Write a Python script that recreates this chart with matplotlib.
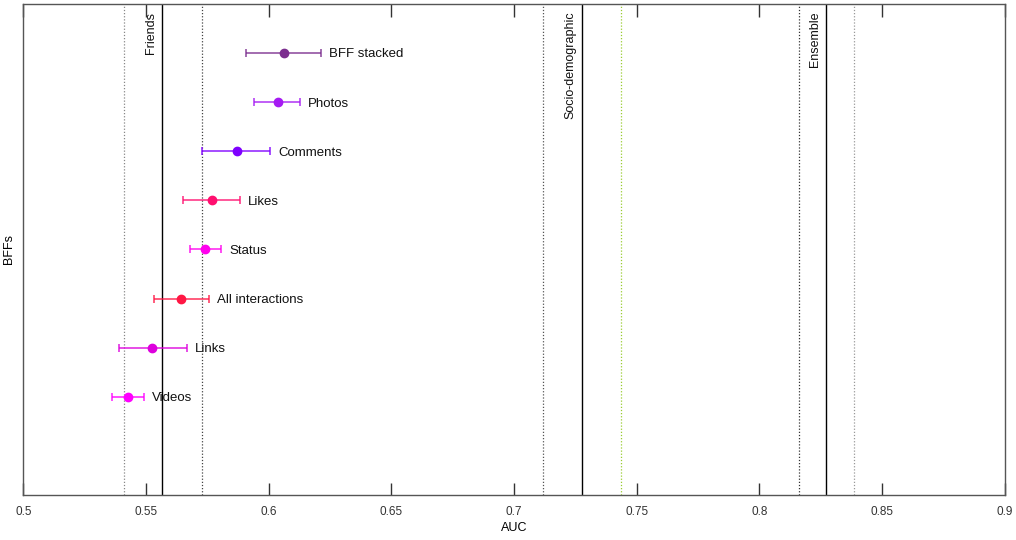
"""AUC of BFF classifiers per interaction type, with reference baselines."""

import matplotlib
matplotlib.use("Agg")
import matplotlib.pyplot as plt
from matplotlib.colors import to_rgba

plt.rcParams["font.family"] = ["Liberation Sans", "DejaVu Sans"]

# data
labels = ["Videos", "Links", "All interactions", "Status",
          "Likes", "Comments", "Photos", "BFF stacked"]
auc = [0.5428, 0.5526, 0.5644, 0.5742, 0.5767, 0.5869, 0.6036, 0.6064]
auc_lo = [0.5363, 0.5391, 0.5534, 0.5681, 0.5652, 0.5730, 0.5938, 0.5909]
auc_hi = [0.5493, 0.5665, 0.5758, 0.5807, 0.5881, 0.6007, 0.6129, 0.6215]
colors = ["#ff00ff", "#dd00dd", "#ff1744", "#ff00ee",
          "#ff0f6f", "#7f00ff", "#a51af2", "#7b2d8e"]

baselines = ["Friends", "Socio-demographic", "Ensemble"]
base_auc = [0.5567, 0.7275, 0.8270]
base_lo = [0.5412, 0.7116, 0.8160]
base_hi = [0.5726, 0.7434, 0.8384]
base_lo_col = ["#888888", "#555555", "#333333"]
base_hi_col = ["#444444", "#9acd32", "#999999"]

fig, ax = plt.subplots(figsize=(10.16, 5.4), dpi=100)
fig.subplots_adjust(left=0.023, right=0.989, top=0.993, bottom=0.083)

for name, m, lo, hi, clo, chi in zip(baselines, base_auc, base_lo, base_hi,
                                     base_lo_col, base_hi_col):
    ax.axvline(m, color="black", lw=1.0, zorder=1)
    ax.axvline(lo, color=clo, lw=0.9, ls=(0, (1, 1.5)), zorder=1)
    ax.axvline(hi, color=chi, lw=0.9, ls=(0, (1, 1.5)), zorder=1)
    ax.text(m - 0.0045, 8.84, name, rotation=90, ha="center", va="top",
            fontsize=9, color="#111111")

ys = list(range(1, len(labels) + 1))
for y, lab, m, lo, hi, c in zip(ys, labels, auc, auc_lo, auc_hi, colors):
    ax.errorbar(m, y, xerr=[[m - lo], [hi - m]], fmt="o", color=c,
                ms=6, ecolor=to_rgba(c, 0.7), elinewidth=1.4, capsize=3,
                capthick=1.4, zorder=3)
    ax.text(hi + 0.0032, y - 0.03, lab, ha="left", va="center",
            fontsize=9.5, color="#111111")

ax.set_xlim(0.5, 0.9)
ax.set_ylim(-1, 9)
ax.set_xticks([0.5, 0.55, 0.6, 0.65, 0.7, 0.75, 0.8, 0.85, 0.9])
ax.set_xticklabels(["0.5", "0.55", "0.6", "0.65", "0.7", "0.75",
                    "0.8", "0.85", "0.9"])
ax.set_yticks([])
ax.tick_params(axis="x", direction="in", length=9, width=1, top=True,
               labelsize=8.5, pad=8, colors="#333333")
ax.set_xlabel("AUC", fontsize=9, labelpad=3)
ax.set_ylabel("BFFs", fontsize=9, labelpad=6)
for sp in ax.spines.values():
    sp.set_color("#555555")
    sp.set_linewidth(1.0)

fig.savefig("out.png", dpi=100)
